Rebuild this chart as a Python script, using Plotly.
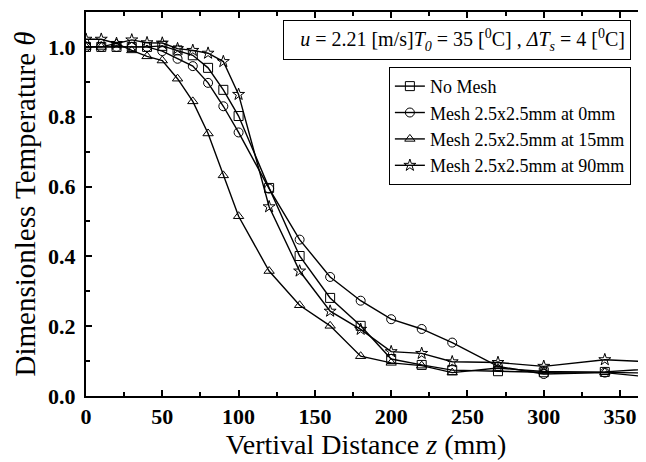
import plotly.graph_objects as go

z = [0, 10, 20, 30, 40, 50, 60, 70, 80, 90, 100, 120, 140, 160, 180, 200, 220, 240, 270, 300, 340, 380]

no_mesh = [1.0, 1.0, 1.0, 1.0, 1.0, 1.003, 0.99, 0.976, 0.94, 0.877, 0.802, 0.596, 0.401, 0.281, 0.201, 0.106, 0.089, 0.074, 0.071, 0.068, 0.069, 0.080]
mesh_0 = [1.0, 1.0, 1.0, 1.0, 1.0, 0.988, 0.966, 0.945, 0.897, 0.830, 0.755, 0.594, 0.448, 0.341, 0.273, 0.220, 0.192, 0.153, 0.085, 0.063, 0.067, 0.050]
mesh_15 = [1.0, 1.0, 1.01, 0.99, 0.973, 0.961, 0.909, 0.844, 0.752, 0.632, 0.515, 0.358, 0.260, 0.201, 0.114, 0.095, 0.087, 0.067, 0.080, 0.070, 0.068, 0.065]
mesh_90 = [1.022, 1.022, 1.01, 1.02, 1.012, 1.011, 0.995, 0.990, 0.982, 0.958, 0.864, 0.542, 0.358, 0.243, 0.191, 0.127, 0.122, 0.098, 0.096, 0.085, 0.104, 0.096]

x_ticks = [0, 50, 100, 150, 200, 250, 300, 350]
x_tick_labels = ["0", "50", "100", "150", "200", "250", "300", "350"]
y_ticks = [0.0, 0.2, 0.4, 0.6, 0.8, 1.0]
y_tick_labels = ["0.0", "0.2", "0.4", "0.6", "0.8", "1.0"]

series = [
    ("No Mesh", no_mesh, "square-open"),
    ("Mesh 2.5x2.5mm at 0mm", mesh_0, "circle-open"),
    ("Mesh 2.5x2.5mm at 15mm", mesh_15, "triangle-up-open"),
    ("Mesh 2.5x2.5mm at 90mm", mesh_90, "star-open"),
]

fig = go.Figure()
for name, vals, sym in series:
    fig.add_trace(go.Scatter(
        x=z, y=vals, name=name, mode="lines+markers",
        line=dict(color="black", width=1.4),
        marker=dict(symbol=sym, size=9, color="black", line=dict(width=1, color="black")),
    ))

font = "Liberation Serif"
fig.update_layout(
    width=638, height=454,
    margin=dict(l=78, r=0, t=4, b=66, autoexpand=False),
    paper_bgcolor="white", plot_bgcolor="white",
    font=dict(family=font, color="black"),
    showlegend=True,
    legend=dict(
        x=0.973, y=0.857, xanchor="right", yanchor="top",
        bordercolor="black", borderwidth=1, bgcolor="white",
        font=dict(size=18, family=font), tracegroupgap=0,
        itemwidth=30,
    ),
)
fig.update_xaxes(
    range=[0, 367], tickmode="array", tickvals=x_ticks,
    ticktext=["<b>%s</b>" % t for t in x_tick_labels], automargin=False,
    ticks="inside", ticklen=6, tickwidth=1.5, tickcolor="black",
    minor=dict(ticks="inside", ticklen=4, tickwidth=1.5, tickcolor="black", tickmode="linear", tick0=25, dtick=50),
    showline=True, linewidth=2, linecolor="black", mirror="allticks",
    showgrid=False, zeroline=False,
    tickfont=dict(size=22, family=font),
    title=dict(text="Vertival Distance <i>z</i> (mm)", font=dict(size=28, family=font), standoff=0),
)
fig.update_yaxes(
    range=[0, 1.1], tickmode="array", tickvals=y_ticks,
    ticktext=["<b>%s</b>" % t for t in y_tick_labels], automargin=False,
    ticks="inside", ticklen=6, tickwidth=1.5, tickcolor="black",
    minor=dict(ticks="inside", ticklen=4, tickwidth=1.5, tickcolor="black", tickmode="linear", tick0=0.1, dtick=0.2),
    showline=True, linewidth=2, linecolor="black", mirror="allticks",
    showgrid=False, zeroline=False, ticklabelstandoff=4,
    tickfont=dict(size=22, family=font),
    title=dict(text="Dimensionless Temperature <i>θ</i>", font=dict(size=29, family=font), standoff=4),
)
fig.add_annotation(
    xref="paper", yref="paper", x=0.973, y=0.979, xanchor="right", yanchor="top",
    text="<i>u</i> = 2.21 [m/s]<i>T</i><sub><i>0</i></sub> = 35 [<sup>0</sup>C] , <i>ΔT</i><sub><i>s</i></sub> = 4 [<sup>0</sup>C]",
    showarrow=False, font=dict(size=20, family=font), width=336,
    bordercolor="black", borderwidth=1, borderpad=5, bgcolor="white", align="right",
)
fig.write_html("out.html")
